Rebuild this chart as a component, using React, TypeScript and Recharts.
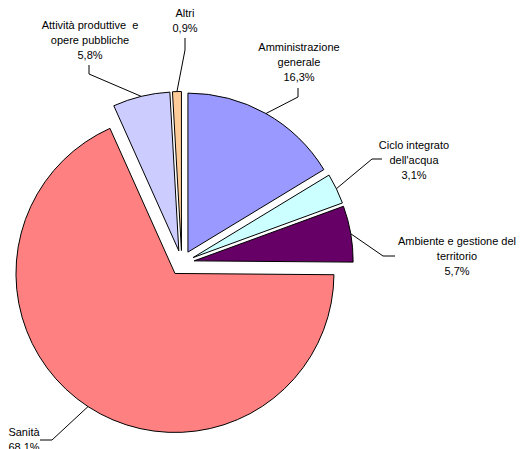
import { PieChart, Pie, Cell, Sector } from "recharts"

const categories = [
  "Amministrazione\ngenerale",
  "Ciclo integrato\ndell'acqua",
  "Ambiente e gestione del\nterritorio",
  "Sanità",
  "Attività produttive  e\nopere pubbliche",
  "Altri",
]
const shares = [16.3, 3.1, 5.7, 68.1, 5.8, 0.9]
const colors = ["#9999ff", "#ccffff", "#660066", "#ff8080", "#ccccff", "#ffcc99"]

const data = categories.map((name, i) => ({ name, value: shares[i] }))

// where each label sits: elbow of the leader, end of the leader, text center
const labelLayout = [
  { elbow: [298, 97], end: [298, 88], tx: 299, ty: 47 },
  { elbow: [372, 159], end: [382, 159], tx: 414, ty: 145 },
  { elbow: [383, 256], end: [395, 256], tx: 457, ty: 241 },
  { elbow: [52, 440], end: [40, 440], tx: 24, ty: 432 },
  { elbow: [89, 74], end: [89, 65], tx: 90, ty: 25 },
  { elbow: [185, 50], end: [185, 38], tx: 185, ty: 13 },
]

const EXPLODE = 12.5
const RAD = Math.PI / 180

function ExplodedSector(props: any) {
  const { cx, cy, midAngle } = props
  const dx = EXPLODE * Math.cos(midAngle * RAD)
  const dy = -EXPLODE * Math.sin(midAngle * RAD)
  return <Sector {...props} cx={cx + dx} cy={cy + dy} />
}

function renderLabel(props: any) {
  const { cx, cy, midAngle, outerRadius, index, value } = props
  const l = labelLayout[index]
  const r = outerRadius + EXPLODE
  const sx = cx + r * Math.cos(midAngle * RAD)
  const sy = cy - r * Math.sin(midAngle * RAD)
  const lines = [...categories[index].split("\n"), `${value.toFixed(1).replace(".", ",")}%`]
  return (
    <g>
      <polyline
        points={`${sx},${sy} ${l.elbow[0]},${l.elbow[1]} ${l.end[0]},${l.end[1]}`}
        fill="none"
        stroke="#000"
        strokeWidth={1}
      />
      <text
        x={l.tx}
        y={l.ty}
        textAnchor="middle"
        dominantBaseline="central"
        fontSize={11}
        fontFamily="Liberation Sans, Arial, sans-serif"
        fill="#000"
        style={{ whiteSpace: "pre" }}
      >
        {lines.map((t, i) => (
          <tspan key={i} x={l.tx} dy={i === 0 ? 0 : 15}>
            {t}
          </tspan>
        ))}
      </text>
    </g>
  )
}

export default function App() {
  return (
    <div style={{ position: "absolute", left: 0, top: 0, background: "#fff" }}>
      <PieChart width={521} height={449} margin={{ top: 0, right: 0, bottom: 0, left: 0 }}>
        <Pie
          data={data}
          dataKey="value"
          cx={181.8}
          cy={263}
          outerRadius={159}
          startAngle={90}
          endAngle={-270}
          stroke="#000"
          strokeWidth={1}
          shape={ExplodedSector}
          label={renderLabel}
          labelLine={false}
          isAnimationActive={false}
        >
          {data.map((d, i) => (
            <Cell key={d.name} fill={colors[i]} />
          ))}
        </Pie>
      </PieChart>
    </div>
  )
}
